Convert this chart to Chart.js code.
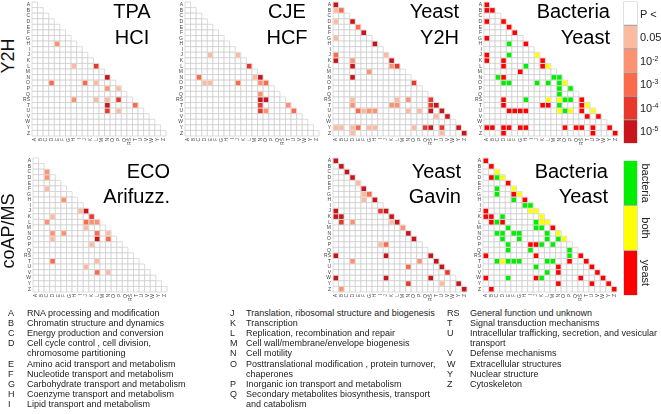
<!DOCTYPE html>
<html>
<head>
<meta charset="utf-8">
<script src="https://cdn.jsdelivr.net/npm/chart.js@4.4.1/dist/chart.umd.min.js"></script>
<style>
  body { margin: 0; background: #fff; width: 661px; height: 414px; overflow: hidden; position: relative;
         font-family: "Liberation Sans", Arial, sans-serif; }
  canvas { position: absolute; }
  .title { position: absolute; width: 200px; font-size: 20px; line-height: 25.5px; color: #000; white-space: pre; }
  .side { position: absolute; font-size: 18px; line-height: 20px; color: #111; white-space: nowrap;
          transform: translate(-50%, -50%) rotate(-90deg); }
  .lab { position: absolute; font-size: 11px; line-height: 12px; color: #222; white-space: nowrap; }
  .lab sup { font-size: 7px; vertical-align: 4px; line-height: 0; }
  .vlab { position: absolute; font-size: 11px; line-height: 12px; color: #222; white-space: nowrap;
          transform: translate(-50%, -50%) rotate(90deg); }
  .leg { position: absolute; font-size: 9px; line-height: 10px; color: #222; white-space: nowrap; }
</style>
</head>
<body>
<script>
const FONT = '"Liberation Sans", Arial, sans-serif';

const cats = ['A','B','C','D','E','F','G','H','I','J','K','L','M','N','O','P','Q','RS','T','U','V','W','Y','Z'];

// [row, column, level]   level 1 = P<0.05, 2 = 1e-2, 3 = 1e-3, 4 = 1e-4, 5 = 1e-5
const tpaHci = [
  ['H','E',2], ['L','H',1], ['L','L',4], ['N','N',5], ['O','D',3], ['O','J',3], ['O','L',1],
  ['P','N',2], ['P','P',1], ['RS','H',2], ['RS','L',1], ['RS','N',1], ['RS','P',4],
  ['T','N',5], ['T','T',3], ['U','N',4], ['U','P',1]
];
const cjeHcf = [
  ['J','E',1], ['J','J',1], ['L','L',4], ['N','C',3], ['N','M',1], ['N','N',5], ['O','D',1],
  ['O','E',1], ['O','J',3], ['O','N',2], ['O','O',3], ['Q','N',2], ['RS','N',5], ['RS','O',5],
  ['T','N',4], ['T','T',2], ['U','N',4], ['U','O',2], ['U','U',3]
];
const yeastY2H = [
  ['A','A',5], ['B','A',1], ['B','B',3], ['D','A',1], ['D','D',5], ['E','E',3], ['F','F',5],
  ['G','A',1], ['H','H',5], ['J','A',3], ['J','J',1], ['K','A',5], ['K','D',2], ['K','K',5],
  ['L','D',5], ['L','K',2], ['L','L',4], ['M','G',2], ['N','D',5], ['O','O',4],
  ['RS','D',1], ['RS','L',1], ['RS','N',2], ['RS','RS',4],
  ['T','D',2], ['T','K',2], ['T','L',2], ['T','RS',4], ['T','T',5],
  ['U','E',3], ['U','F',1], ['U','G',2], ['U','H',2], ['U','N',1], ['U','P',1], ['U','RS',5], ['U','U',5],
  ['V','T',1], ['V','V',5],
  ['Y','A',1], ['Y','B',1], ['Y','D',1], ['Y','E',3], ['Y','G',1], ['Y','H',1], ['Y','O',1],
  ['Y','Q',4], ['Y','RS',5], ['Y','U',4], ['Y','Y',5],
  ['Z','D',1], ['Z','U',1], ['Z','Z',5]
];
const ecoArifuzz = [
  ['C','C',2], ['D','C',2], ['F','C',1], ['H','F',2], ['J','I',1], ['J','J',5], ['K','D',1],
  ['K','K',4], ['L','C',2], ['L','J',3], ['L','K',2], ['L','L',2], ['M','J',1],
  ['N','D',2], ['N','F',2], ['N','L',3], ['N','N',1], ['O','D',1], ['O','L',5], ['O','N',3],
  ['P','K',1], ['T','D',3], ['T','L',1], ['U','J',1], ['V','L',3], ['V','N',1]
];
const yeastGavin = [
  ['A','A',5], ['B','B',5], ['C','C',5], ['D','D',5], ['E','E',1], ['F','F',5], ['G','F',1],
  ['G','G',3], ['H','F',1], ['H','H',5], ['J','A',5], ['J','I',4], ['J','J',5], ['K','A',5],
  ['K','B',5], ['K','K',5], ['L','B',4], ['L','D',2], ['L','K',1], ['L','L',5], ['M','M',2],
  ['N','N',5], ['O','O',5], ['P','I',1], ['P','J',3], ['RS','A',5], ['RS','J',5], ['RS','RS',5],
  ['T','D',2], ['T','P',2], ['T','T',5], ['U','N',3], ['U','U',5], ['V','V',4],
  ['W','A',5], ['W','J',5], ['W','RS',5], ['Y','N',4], ['Y','U',1], ['Y','Y',5], ['Z','B',2], ['Z','Z',5]
];

// [row, column, origin]   b = bacteria, B = both, y = yeast
const bactYeastY2H = [
  ['A','A','y'], ['B','A','y'], ['B','B','y'], ['D','A','y'], ['D','D','y'], ['E','E','y'], ['F','F','y'],
  ['G','A','y'], ['H','E','b'], ['H','H','y'], ['J','A','y'], ['J','E','b'], ['J','J','B'],
  ['K','A','y'], ['K','D','y'], ['K','K','y'], ['L','D','y'], ['L','H','b'], ['L','K','y'], ['L','L','B'],
  ['M','G','y'], ['N','C','b'], ['N','D','y'], ['N','M','b'], ['N','N','b'],
  ['O','D','b'], ['O','E','b'], ['O','J','b'], ['O','L','b'], ['O','N','b'], ['O','O','B'],
  ['P','N','b'], ['P','P','b'], ['Q','N','b'],
  ['RS','D','y'], ['RS','H','b'], ['RS','L','B'], ['RS','N','B'], ['RS','O','b'], ['RS','P','b'], ['RS','RS','y'],
  ['T','D','y'], ['T','K','y'], ['T','L','y'], ['T','N','b'], ['T','RS','y'], ['T','T','B'],
  ['U','E','y'], ['U','F','y'], ['U','G','y'], ['U','H','y'], ['U','N','B'], ['U','O','b'], ['U','P','B'],
  ['U','RS','y'], ['U','U','B'], ['V','T','y'], ['V','V','y'],
  ['Y','A','y'], ['Y','B','y'], ['Y','D','y'], ['Y','E','y'], ['Y','G','y'], ['Y','H','y'], ['Y','O','y'],
  ['Y','Q','y'], ['Y','RS','y'], ['Y','U','y'], ['Y','Y','y'], ['Z','D','y'], ['Z','U','y'], ['Z','Z','y']
];
const bactYeastAPMS = [
  ['A','A','y'], ['B','B','y'], ['C','C','B'], ['D','B','y'], ['D','C','b'], ['D','D','B'], ['E','E','y'],
  ['F','C','b'], ['F','F','B'], ['G','C','b'], ['G','F','y'], ['G','G','B'], ['H','F','b'], ['H','H','y'],
  ['I','H','b'], ['I','I','b'], ['J','A','y'], ['J','I','B'], ['J','J','B'],
  ['K','A','y'], ['K','B','y'], ['K','D','b'], ['K','K','B'],
  ['L','B','y'], ['L','C','b'], ['L','D','y'], ['L','J','b'], ['L','K','B'], ['L','L','B'],
  ['M','E','b'], ['M','J','b'], ['M','K','b'], ['M','M','y'],
  ['N','C','b'], ['N','D','b'], ['N','F','b'], ['N','G','b'], ['N','L','b'], ['N','N','B'],
  ['O','D','b'], ['O','G','b'], ['O','L','b'], ['O','N','b'], ['O','O','B'],
  ['P','E','b'], ['P','I','y'], ['P','J','y'], ['P','K','b'], ['P','M','b'],
  ['Q','E','b'], ['Q','I','b'], ['Q','P','b'],
  ['RS','A','y'], ['RS','J','y'], ['RS','P','b'], ['RS','RS','y'],
  ['T','C','b'], ['T','D','B'], ['T','E','b'], ['T','F','b'], ['T','G','b'], ['T','L','b'], ['T','M','b'],
  ['T','P','y'], ['T','T','y'], ['U','J','b'], ['U','N','y'], ['U','U','y'],
  ['V','L','b'], ['V','N','y'], ['V','V','y'],
  ['W','A','y'], ['W','E','b'], ['W','J','y'], ['W','K','b'], ['W','RS','y'], ['W','W','y'],
  ['Y','N','y'], ['Y','U','y'], ['Y','Y','y'], ['Z','B','y'], ['Z','Z','y']
];

const pLabels = ['P &lt;', '0.05', '10<sup>-2</sup>', '10<sup>-3</sup>', '10<sup>-4</sup>', '10<sup>-5</sup>'];
const pColors = ['#ffffff', '#fcbba1', '#fc9272', '#fb6a4a', '#e8382b', '#c8151b'];
const originKeys = ['b', 'B', 'y'];
const originLabels = ['bacteria', 'both', 'yeast'];
const originColors = ['#00ee00', '#ffff00', '#ff0000'];

const legendCodes = cats;
const legendNames = [
  'RNA processing and modification', 'Chromatin structure and dynamics', 'Energy production and conversion',
  'Cell cycle control , cell division,\nchromosome partitioning', 'Amino acid transport and metabolism',
  'Nucleotide transport and metabolism', 'Carbohydrate transport and metabolism',
  'Coenzyme transport and metabolism', 'Lipid transport and metabolism',
  'Translation, ribosomal structure and biogenesis', 'Transcription', 'Replication, recombination and repair',
  'Cell wall/membrane/envelope biogenesis', 'Cell motility',
  'Posttranslational modification , protein turnover,\nchaperones', 'Inorganic ion transport and metabolism',
  'Secondary metabolites biosynthesis, transport\nand catabolism',
  'General function und unknown', 'Signal transduction mechanisms',
  'Intracellular trafficking, secretion, and vesicular\ntransport', 'Defense mechanisms',
  'Extracellular structures', 'Nuclear structure', 'Cytoskeleton'
];

// geometry of one triangle matrix
const GRID = 134, YW = 12, XH = 14, PAD = 1;

function addDiv(cls, html, left, top, extra) {
  const d = document.createElement('div');
  d.className = cls;
  d.innerHTML = html;
  d.style.left = left + 'px';
  d.style.top = top + 'px';
  if (extra) Object.assign(d.style, extra);
  document.body.appendChild(d);
  return d;
}

function addCanvas(left, top, w, h) {
  const c = document.createElement('canvas');
  c.width = w; c.height = h;
  c.style.left = left + 'px'; c.style.top = top + 'px';
  document.body.appendChild(c);
  return c;
}

function matrixChart(left, top, cells, colorOf) {
  const canvas = addCanvas(left - YW, top - PAD, YW + GRID + PAD, PAD + GRID + XH);
  const blank = [];
  cats.forEach((r, i) => cats.forEach((c, j) => { if (j <= i) blank.push({x: c, y: r}); }));
  const marks = cells.map(([r, c, v]) => ({x: c, y: r, v: v}));
  const cell = ch => ch.scales.x.width / cats.length;
  const tickFont = {size: 5, family: FONT};
  const axis = (extra) => Object.assign({
    type: 'category', labels: cats, offset: true,
    grid: {display: false, drawTicks: false}, border: {display: false}
  }, extra);

  return new Chart(canvas, {
    type: 'scatter',
    data: {
      datasets: [{
        data: marks,
        pointStyle: 'rect',
        pointRadius: ctx => cell(ctx.chart) * 0.82 / Math.SQRT2,
        pointBackgroundColor: ctx => ctx.raw ? colorOf(ctx.raw.v) : '#000',
        pointBorderWidth: 0,
        clip: false
      }, {
        data: blank,
        pointStyle: 'rect',
        pointRadius: ctx => cell(ctx.chart) / Math.SQRT2,
        pointBackgroundColor: '#ffffff',
        pointBorderColor: '#c6c6c6',
        pointBorderWidth: 0.6,
        clip: false
      }]
    },
    options: {
      responsive: false,
      animation: false,
      events: [],
      layout: {padding: {top: PAD, right: PAD, left: 0, bottom: 0}},
      plugins: {legend: {display: false}, tooltip: {enabled: false}},
      scales: {
        x: axis({
          ticks: {autoSkip: false, padding: 2, minRotation: 90, maxRotation: 90, color: '#444', font: tickFont},
          afterFit: s => { s.height = XH; s.paddingLeft = 0; s.paddingRight = 0; }
        }),
        y: axis({
          ticks: {autoSkip: false, padding: 2, color: '#444', font: tickFont},
          afterFit: s => { s.width = YW; s.paddingTop = 0; s.paddingBottom = 0; }
        })
      }
    }
  });
}

function barLegend(left, top, w, h, colors) {
  const canvas = addCanvas(left, top, w, h);
  return new Chart(canvas, {
    type: 'bar',
    data: {
      labels: [''],
      datasets: colors.map(c => ({
        data: [1], backgroundColor: c, borderColor: '#a0a0a0', borderWidth: 0.8,
        borderSkipped: false, barPercentage: 1, categoryPercentage: 1
      }))
    },
    options: {
      responsive: false, animation: false, events: [],
      layout: {padding: 0.5},
      plugins: {legend: {display: false}, tooltip: {enabled: false}},
      scales: {
        x: {display: false, stacked: true},
        y: {display: false, stacked: true, min: 0, max: colors.length, reverse: true}
      }
    }
  });
}

const level = v => pColors[v];
const origin = v => originColors[originKeys.indexOf(v)];

matrixChart(32, 2, tpaHci, level);
matrixChart(185, 2, cjeHcf, level);
matrixChart(333, 2, yeastY2H, level);
matrixChart(484, 2, bactYeastY2H, origin);
matrixChart(33, 158, ecoArifuzz, level);
matrixChart(333, 158, yeastGavin, level);
matrixChart(483, 158, bactYeastAPMS, origin);

// titles
[
  [['TPA', 'HCI'], 132, 'center', -1],
  [['CJE', 'HCF'], 287, 'center', -1],
  [['Yeast', 'Y2H'], 459, 'right', -1],
  [['Bacteria', 'Yeast'], 610, 'right', -1],
  [['ECO', 'Arifuzz.'], 170, 'right', 158.5],
  [['Yeast', 'Gavin'], 461, 'right', 158.5],
  [['Bacteria', 'Yeast'], 608, 'right', 158.5]
].forEach(([lines, x, align, top]) => {
  addDiv('title', lines.join('\n'), align === 'right' ? x - 200 : x - 100, top, {textAlign: align});
});

addDiv('side', 'Y2H', 8, 56);
addDiv('side', 'coAP/MS', 8, 231);

// colour bars
barLegend(623, 1, 15, 143, pColors);
pLabels.forEach((t, i) => addDiv('lab', t, 640, 2 + (i + 0.5) * 23.5 - 6));
barLegend(623, 160, 15, 136, originColors);
originLabels.forEach((t, i) => addDiv('vlab', t, 646, 161 + (i + 0.5) * 44.7));

// category key
const columns = [[0, 9, 8, 27], [9, 17, 230, 246], [17, 24, 447, 470]];
columns.forEach(([from, to, xc, xt]) => {
  let line = 0;
  for (let i = from; i < to; i++) {
    const top = 308 + 10.1 * line;
    addDiv('leg', legendCodes[i], xc, top);
    const parts = legendNames[i].split('\n');
    parts.forEach((p, k) => addDiv('leg', p, xt, top + 10.1 * k));
    line += parts.length;
  }
});
</script>
</body>
</html>
